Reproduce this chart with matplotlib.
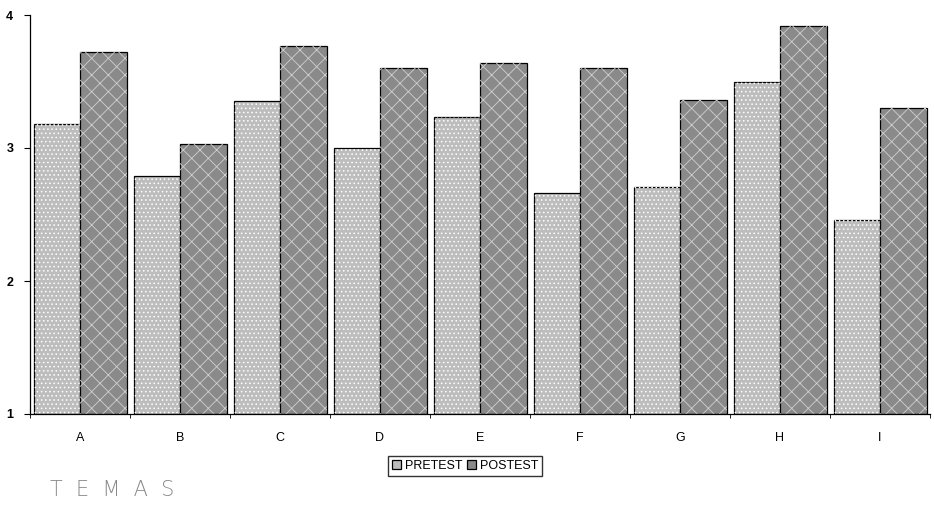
import matplotlib.pyplot as plt
import numpy as np

temas = ['A', 'B', 'C', 'D', 'E', 'F', 'G', 'H', 'I']
pretest = [3.18, 2.79, 3.35, 3.00, 3.23, 2.66, 2.71, 3.50, 2.46]
postest = [3.72, 3.03, 3.77, 3.60, 3.64, 3.60, 3.36, 3.92, 3.30]

plt.rcParams['font.family'] = ['Liberation Sans', 'DejaVu Sans']
plt.rcParams['hatch.linewidth'] = 0.6

fig = plt.figure(figsize=(9.34, 5.08), dpi=100)
ax = fig.add_axes([30/934, 94/508, 900/934, 399/508])

x = np.arange(len(temas))
w = 0.465
base = 1
# solid bars with outline, then a hatch layer on top for the scanned speckle look
ax.bar(x - w/2, np.array(pretest) - base, w, bottom=base, color='#bdbdbd',
       edgecolor='black', linewidth=0.9, label='PRETEST')
ax.bar(x - w/2, np.array(pretest) - base, w, bottom=base, color='none',
       edgecolor='white', linewidth=0, hatch='....')
ax.bar(x + w/2, np.array(postest) - base, w, bottom=base, color='#8a8a8a',
       edgecolor='black', linewidth=0.9, label='POSTEST')
ax.bar(x + w/2, np.array(postest) - base, w, bottom=base, color='none',
       edgecolor='#d0d0d0', linewidth=0, hatch='xx')

ax.set_xlim(-0.5, len(temas) - 0.5)
ax.set_ylim(1, 4)
ax.set_yticks([1, 2, 3, 4])
ax.set_yticklabels(['1', '2', '3', '4'], fontsize=9, fontweight='bold')
ax.set_xticks(x)
ax.set_xticklabels(temas, fontsize=9)
ax.tick_params(axis='x', length=0, pad=13)
ax.tick_params(axis='y', length=4, width=0.8, pad=8)
ax.set_xticks(np.arange(-0.5, len(temas)), minor=True)
ax.tick_params(axis='x', which='minor', length=3, direction='out')
for s in ['top', 'right']:
    ax.spines[s].set_visible(False)
ax.spines['left'].set_linewidth(0.9)
ax.spines['bottom'].set_linewidth(0.9)

fig.legend(loc='center', bbox_to_anchor=(465/934, 1 - 466/508), ncol=2,
           fontsize=9, frameon=True, fancybox=False, edgecolor='black',
           handlelength=0.7, handleheight=0.7, handletextpad=0.3,
           columnspacing=0.4, borderpad=0.3, borderaxespad=0)
fig.text(50/934, 1 - 490/508, 'T  E  M  A  S', fontsize=15, color='#888888',
         va='center', ha='left', family='DejaVu Sans', fontweight='light')

fig.savefig('out.png', dpi=100)
